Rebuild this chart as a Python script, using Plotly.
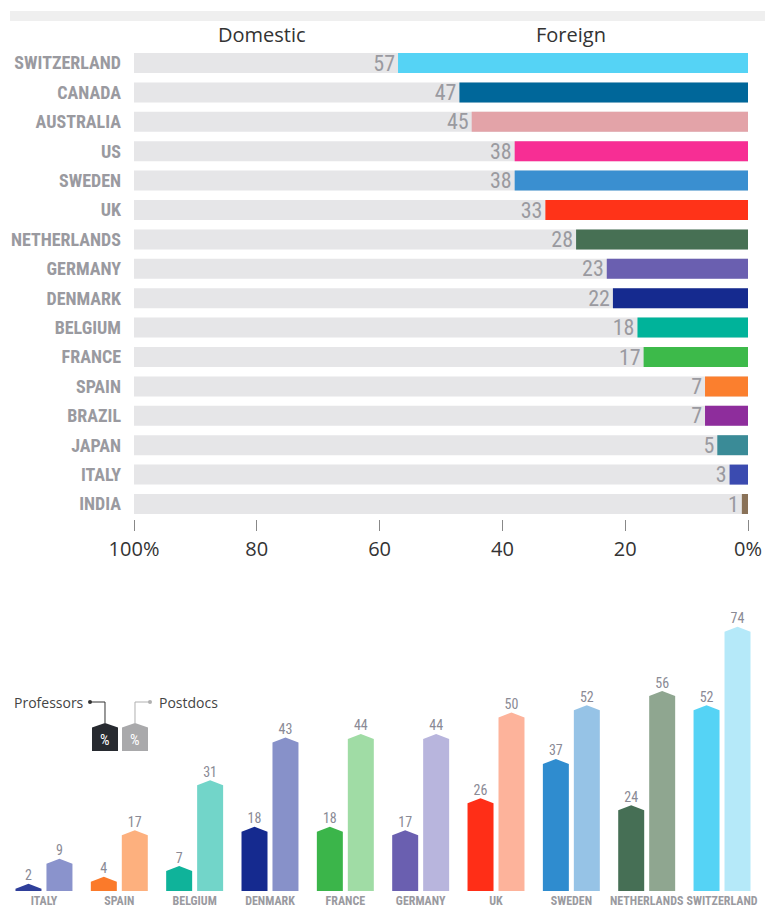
import plotly.graph_objects as go

# ---------------- data ----------------
top_countries = ["SWITZERLAND", "CANADA", "AUSTRALIA", "US", "SWEDEN", "UK", "NETHERLANDS",
                 "GERMANY", "DENMARK", "BELGIUM", "FRANCE", "SPAIN", "BRAZIL", "JAPAN", "ITALY", "INDIA"]
foreign_pct = [57, 47, 45, 38, 38, 33, 28, 23, 22, 18, 17, 7, 7, 5, 3, 1]
top_colors = ["#55d3f5", "#00679a", "#e3a3a8", "#f72e94", "#3a8fd0", "#ff3318", "#477054",
              "#6a5fb0", "#152a8f", "#00b39a", "#3dba4a", "#fb7f2e", "#8e2d9c", "#3a8b97",
              "#3b4bb0", "#8a7258"]
x_tickvals = [100, 80, 60, 40, 20, 0]
x_ticktext = ["100%", "80", "60", "40", "20", "0%"]

bot_countries = ["ITALY", "SPAIN", "BELGIUM", "DENMARK", "FRANCE", "GERMANY", "UK",
                 "SWEDEN", "NETHERLANDS", "SWITZERLAND"]
professors = [2, 4, 7, 18, 18, 17, 26, 37, 24, 52]
postdocs = [9, 17, 31, 43, 44, 44, 50, 52, 56, 74]
prof_colors = ["#2f3f9a", "#fb7a2a", "#0fb39a", "#152a8f", "#3bb54a", "#6a5fb0", "#ff2e17",
               "#2f8ccf", "#466f55", "#55d3f5"]
post_colors = ["#8a93cc", "#fdb07e", "#72d5c9", "#8791c9", "#a0dca5", "#b8b5dd", "#fdb39b",
               "#96c3e6", "#8fa690", "#b5e9f9"]

# ---------------- style ----------------
W, H = 765, 910
NARROW = "Roboto Condensed, Open Sans Condensed, DejaVu Sans Condensed, sans-serif"
SANS = "Open Sans, Lato, sans-serif"
LABEL_GREY = "#9a9aa0"


def px(x):
    return x / W


def py(y):
    return 1 - y / H


fig = go.Figure()

# ---------------- top chart ----------------
fig.add_trace(go.Bar(
    y=top_countries, x=[100] * len(top_countries), orientation="h",
    marker=dict(color="#e6e6e8", line=dict(width=0)),
    hoverinfo="skip", showlegend=False, xaxis="x", yaxis="y"))
fig.add_trace(go.Bar(
    y=top_countries, x=foreign_pct, orientation="h",
    marker=dict(color=top_colors, line=dict(width=0)),
    text=[str(v) for v in foreign_pct], textposition="outside",
    outsidetextfont=dict(family=NARROW, size=22, color=LABEL_GREY),
    constraintext="none", cliponaxis=False,
    showlegend=False, xaxis="x", yaxis="y"))

# ---------------- bottom chart (house-shaped bars) ----------------
half_gap = 0.033
bar_w = 0.345
peak = 1.4


def house(cx0, cx1, v):
    s = max(v - peak, 0)
    xc = (cx0 + cx1) / 2
    return [cx0, cx0, xc, cx1, cx1, cx0], [0, s, v, s, 0, 0]


for i, c in enumerate(bot_countries):
    for vals, cols, sign in ((professors, prof_colors, -1), (postdocs, post_colors, 1)):
        v = vals[i]
        if sign < 0:
            x0, x1 = i - half_gap - bar_w, i - half_gap
        else:
            x0, x1 = i + half_gap, i + half_gap + bar_w
        xs, ys = house(x0, x1, v)
        fig.add_trace(go.Scatter(
            x=xs, y=ys, fill="toself", fillcolor=cols[i], mode="lines",
            line=dict(width=0, color=cols[i]), hoverinfo="skip",
            showlegend=False, xaxis="x2", yaxis="y2"))
        fig.add_trace(go.Scatter(
            x=[(x0 + x1) / 2], y=[v], mode="text", text=[str(v)],
            textposition="top center",
            textfont=dict(family=NARROW, size=14, color="#8a8a95"),
            hoverinfo="skip", showlegend=False, cliponaxis=False,
            xaxis="x2", yaxis="y2"))

fig.update_layout(
    width=W, height=H, margin=dict(l=0, r=0, t=0, b=0, autoexpand=False),
    paper_bgcolor="white", plot_bgcolor="white",
    barmode="overlay", bargap=0.32,
    xaxis=dict(domain=[px(134), px(748)], range=[100, 0], tickvals=x_tickvals,
               ticktext=x_ticktext, ticks="outside", ticklen=11, tickcolor="#888",
               tickwidth=1, showgrid=False, zeroline=False, showline=False,
               tickfont=dict(family=SANS, size=20, color="#333"), anchor="y",
               ticklabelstandoff=1, automargin=False),
    yaxis=dict(domain=[py(518.7), py(48.3)], categoryorder="array",
               categoryarray=top_countries, autorange="reversed",
               showgrid=False, zeroline=False, showline=False, ticks="",
               tickfont=dict(family=NARROW, size=18, color=LABEL_GREY, weight="bold"),
               ticklabelstandoff=12, anchor="x", automargin=False),
    xaxis2=dict(domain=[px(6.3), px(759.7)], range=[-0.5, 9.5],
                tickvals=list(range(len(bot_countries))), ticktext=bot_countries,
                ticks="", showgrid=False, zeroline=False, showline=False, tickangle=0,
                tickfont=dict(family=NARROW, size=12, color=LABEL_GREY, weight="bold"),
                ticklabelstandoff=1, anchor="y2", automargin=False),
    yaxis2=dict(domain=[py(891), py(605.4)], range=[0, 80], visible=False,
                showgrid=False, zeroline=False, anchor="x2", automargin=False),
)

shapes = []
annotations = []
# top light grey strip
shapes.append(dict(type="rect", xref="paper", yref="paper", x0=px(10), x1=1,
                   y0=py(21), y1=py(11), fillcolor="#efefef", line=dict(width=0),
                   layer="below"))
annotations.append(dict(xref="paper", yref="paper", x=px(262), y=py(35), text="Domestic",
                        xanchor="center", yanchor="middle", showarrow=False,
                        font=dict(family=SANS, size=20, color="#333")))
annotations.append(dict(xref="paper", yref="paper", x=px(571), y=py(35), text="Foreign",
                        xanchor="center", yanchor="middle", showarrow=False,
                        font=dict(family=SANS, size=20, color="#333")))


# legend icons (house shapes)
def icon_path(x0, x1, ytop, yshoulder, ybot):
    xc = (x0 + x1) / 2
    pts = [(x0, ybot), (x0, yshoulder), (xc, ytop), (x1, yshoulder), (x1, ybot)]
    return "M " + " L ".join(f"{px(a):.5f},{py(b):.5f}" for a, b in pts) + " Z"


shapes.append(dict(type="path", xref="paper", yref="paper",
                   path=icon_path(92, 118, 723, 727.5, 751), fillcolor="#272a30",
                   line=dict(width=0)))
shapes.append(dict(type="path", xref="paper", yref="paper",
                   path=icon_path(122, 148, 723, 727.5, 751), fillcolor="#a9a9ab",
                   line=dict(width=0)))
# connector lines
shapes.append(dict(type="path", xref="paper", yref="paper",
                   path=f"M {px(90):.5f},{py(702):.5f} L {px(105):.5f},{py(702):.5f} L {px(105):.5f},{py(723):.5f}",
                   line=dict(color="#333", width=1)))
shapes.append(dict(type="path", xref="paper", yref="paper",
                   path=f"M {px(150):.5f},{py(702):.5f} L {px(135):.5f},{py(702):.5f} L {px(135):.5f},{py(723):.5f}",
                   line=dict(color="#b0b0b0", width=1)))
shapes.append(dict(type="circle", xref="paper", yref="paper",
                   x0=px(88), x1=px(92), y0=py(704), y1=py(700),
                   fillcolor="#333", line=dict(width=0)))
shapes.append(dict(type="circle", xref="paper", yref="paper",
                   x0=px(148), x1=px(152), y0=py(704), y1=py(700),
                   fillcolor="#b0b0b0", line=dict(width=0)))
annotations.append(dict(xref="paper", yref="paper", x=px(86), y=py(702), text="Professors",
                        xanchor="right", yanchor="middle", showarrow=False,
                        font=dict(family=SANS, size=14, color="#444")))
annotations.append(dict(xref="paper", yref="paper", x=px(157), y=py(702), text="Postdocs",
                        xanchor="left", yanchor="middle", showarrow=False,
                        font=dict(family=SANS, size=14, color="#444")))
annotations.append(dict(xref="paper", yref="paper", x=px(105), y=py(740), text="%",
                        xanchor="center", yanchor="middle", showarrow=False,
                        font=dict(family=NARROW, size=15, color="white")))
annotations.append(dict(xref="paper", yref="paper", x=px(135), y=py(740), text="%",
                        xanchor="center", yanchor="middle", showarrow=False,
                        font=dict(family=NARROW, size=15, color="white")))

fig.update_layout(shapes=shapes, annotations=annotations)

fig.write_html("out.html")
